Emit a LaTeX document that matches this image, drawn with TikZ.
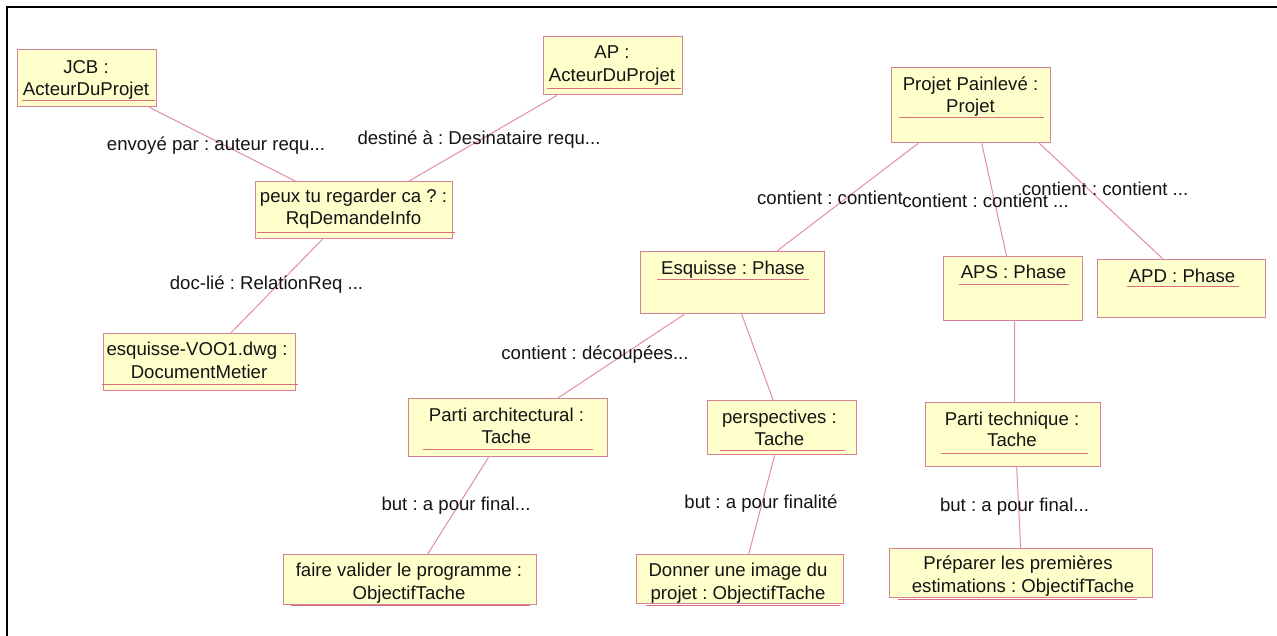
\documentclass[tikz,border=0pt]{standalone}
\usepackage{fontspec}
\setmainfont{Liberation Sans}
\usetikzlibrary{calc}
\frenchspacing
\definecolor{boxfill}{RGB}{255,255,204}
\definecolor{boxline}{RGB}{214,130,150}
\definecolor{ulcol}{RGB}{218,110,125}
\definecolor{linkcol}{RGB}{228,140,165}
\tikzset{
  obj/.style={draw=boxline, fill=boxfill, line width=1.3pt, inner sep=0pt, anchor=north west},
  txt/.style={inner sep=0pt, anchor=base, font=\fontsize{18.6}{23}\selectfont, text=black!92},
  lbl/.style={inner sep=0pt, anchor=center, font=\fontsize{18.6}{23}\selectfont, text=black!92},
  link/.style={draw=linkcol, line width=1pt},
  ul/.style={draw=ulcol, line width=1pt},
  frameline/.style={draw=black, line width=2.6pt},
}
\newcommand{\objbox}[5]{% name, x0, y0, x1, y1
  \node[obj, minimum width={(#4-#2)*1pt}, minimum height={(#5-#3)*1pt}] (#1) at (#2,#3) {};}
\begin{document}
\begin{tikzpicture}[x=1pt,y=-1pt]
\useasboundingbox (0,0) rectangle (1277,635);
% frame lines (top and left)
\draw[frameline] (7,7) -- (1278,7);
\draw[frameline] (7,5.7) -- (7,636);

% ---- object boxes ----
\objbox{jcb}{16.5}{49}{156}{106}
\objbox{ap}{543}{36}{682}{94}
\objbox{projet}{891}{67}{1050}{142}
\objbox{rq}{255}{181}{452}{238}
\objbox{esq}{640}{251}{824}{313}
\objbox{aps}{943}{256}{1082}{320}
\objbox{apd}{1097}{259}{1265}{317}
\objbox{dwg}{102.5}{333}{295}{390}
\objbox{arch}{408}{398}{607}{456}
\objbox{persp}{707}{400}{856}{454}
\objbox{tech}{925}{402}{1100}{466}
\objbox{faire}{282.5}{554}{536}{603.5}
\objbox{donner}{636}{554}{843}{603}
\objbox{prep}{888.5}{548}{1151.5}{597}

% ---- box texts ----
\node[txt] (jcbA) at (86,73.5) {JCB :};
\node[txt] (jcbB) at (86,95.5) {ActeurDuProjet};
\node[txt] (apA) at (612,58) {AP :};
\node[txt] (apB) at (612,81.5) {ActeurDuProjet};
\node[txt] (projetA) at (970.5,90) {Projet Painlevé :};
\node[txt] (projetB) at (970.5,112) {Projet};
\node[txt] (rqA) at (353.5,202) {peux tu regarder ca ? :};
\node[txt] (rqB) at (353.5,224) {RqDemandeInfo};
\node[txt] (esqA) at (733,274) {Esquisse : Phase};
\node[txt] (apsA) at (1013.5,278) {APS : Phase};
\node[txt] (apdA) at (1182,282) {APD : Phase};
\node[txt] (dwgA) at (197,355) {esquisse-VOO1.dwg :};
\node[txt] (dwgB) at (199,378) {DocumentMetier};
\node[txt] (archA) at (506.5,421.5) {Parti architectural :};
\node[txt] (archB) at (506.5,443.5) {Tache};
\node[txt] (perspA) at (779.5,423) {perspectives :};
\node[txt] (perspB) at (779.5,445.5) {Tache};
\node[txt] (techA) at (1012,425) {Parti technique :};
\node[txt] (techB) at (1012,446.5) {Tache};
\node[txt] (faireA) at (409,576.5) {faire valider le programme :};
\node[txt] (faireB) at (409,599.5) {ObjectifTache};
\node[txt] (donnerA) at (738,576.5) {Donner une image du};
\node[txt] (donnerB) at (738,599.5) {projet : ObjectifTache};
\node[txt] (prepA) at (1018,569) {Préparer les premières};
\node[txt] (prepB) at (1023,592.5) {estimations : ObjectifTache};

% ---- name underlines ----
\draw[ul] (21.5,100) -- (155,100);
\draw[ul] (547,88) -- (681,88);
\draw[ul] (899,117) -- (1044,117);
\draw[ul] (257,232) -- (455,232);
\draw[ul] (657,279) -- (809,279);
\draw[ul] (959,284) -- (1069,284);
\draw[ul] (1127,286.5) -- (1239,286.5);
\draw[ul] (101.5,384) -- (298,384);
\draw[ul] (423,449.5) -- (593,449.5);
\draw[ul] (720,450.5) -- (845,450.5);
\draw[ul] (941,453) -- (1088,453);
\draw[ul] (291,605) -- (530,605);
\draw[ul] (646,605) -- (840,605);
\draw[ul] (898,599) -- (1137,599);

% ---- links ----
\draw[link] ($(jcb.south west)!0.943!(jcb.south east)$) -- ($(rq.north west)!0.203!(rq.north east)$);
\draw[link] ($(ap.south west)!0.10!(ap.south east)$) -- ($(rq.north west)!0.777!(rq.north east)$);
\draw[link] ($(rq.south west)!0.34!(rq.south east)$) -- ($(dwg.north west)!0.662!(dwg.north east)$);
\draw[link] ($(projet.south west)!0.17!(projet.south east)$) -- ($(esq.north west)!0.739!(esq.north east)$);
\draw[link] ($(projet.south west)!0.566!(projet.south east)$) -- ($(aps.north west)!0.453!(aps.north east)$);
\draw[link] ($(projet.south west)!0.925!(projet.south east)$) -- ($(apd.north west)!0.39!(apd.north east)$);
\draw[link] ($(esq.south west)!0.239!(esq.south east)$) -- ($(arch.north west)!0.749!(arch.north east)$);
\draw[link] ($(esq.south west)!0.549!(esq.south east)$) -- ($(persp.north west)!0.44!(persp.north east)$);
\draw[link] ($(aps.south west)!0.511!(aps.south east)$) -- ($(tech.north west)!0.509!(tech.north east)$);
\draw[link] ($(arch.south west)!0.402!(arch.south east)$) -- ($(faire.north west)!0.57!(faire.north east)$);
\draw[link] ($(persp.south west)!0.45!(persp.south east)$) -- ($(donner.north west)!0.541!(donner.north east)$);
\draw[link] ($(tech.south west)!0.52!(tech.south east)$) -- ($(prep.north west)!0.5!(prep.north east)$);

% ---- link labels ----
\node[lbl] (envoye) at (216,146) {envoyé par : auteur requ...};
\node[lbl] (destine) at (479,140) {destiné à : Desinataire requ...};
\node[lbl] (docl) at (266.5,285) {doc-lié : RelationReq ...};
\node[lbl] (cont1) at (830,198) {contient : contient};
\node[lbl] (cont2) at (985.5,201) {contient : contient ...};
\node[lbl] (cont3) at (1105,189) {contient : contient ...};
\node[lbl] (decoup) at (595,355) {contient : découpées...};
\node[lbl] (but1) at (456,506) {but : a pour final...};
\node[lbl] (but2) at (761,504) {but : a pour finalité};
\node[lbl] (but3) at (1014.5,507) {but : a pour final...};
\end{tikzpicture}
\end{document}
